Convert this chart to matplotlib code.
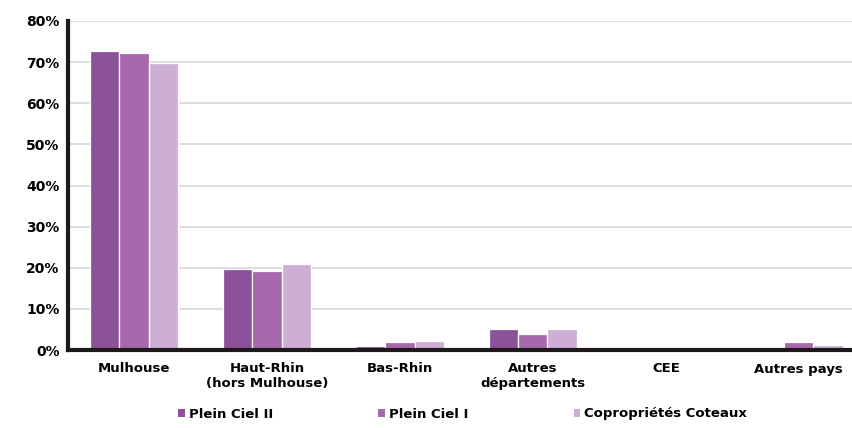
import matplotlib
matplotlib.use('Agg')
import matplotlib.pyplot as plt
import numpy as np
from matplotlib.patches import Patch
from matplotlib.ticker import FuncFormatter

plt.rcParams['font.family'] = ['DejaVu Sans']
plt.rcParams['font.weight'] = 'bold'

categories = ['Mulhouse', 'Haut-Rhin\n(hors Mulhouse)', 'Bas-Rhin', 'Autres\ndépartements', 'CEE', 'Autres pays']
series_names = ['Plein Ciel II', 'Plein Ciel I', 'Copropriétés Coteaux']
plein_ciel_2 = [72.7, 19.7, 0.9, 5.0, 0.0, 0.8]
plein_ciel_1 = [72.1, 19.2, 2.0, 4.0, 0.0, 1.9]
coteaux = [69.8, 21.0, 2.2, 5.1, 0.0, 1.1]
y_ticks = [0, 10, 20, 30, 40, 50, 60, 70, 80]

colors = ['#8c5299', '#a668aa', '#cdafd5']
grid_color = '#ddd2de'

fig = plt.figure(figsize=(8.52, 4.28), dpi=100)
ax = fig.add_axes([68 / 852, 1 - 350 / 428, 1 - 68 / 852, 329 / 428])

x = np.arange(len(categories))
w = 0.22
for i, vals in enumerate([plein_ciel_2, plein_ciel_1, coteaux]):
    ax.bar(x + (i - 1) * w, vals, width=w, color=colors[i], edgecolor='white',
           linewidth=0.9, zorder=3, label=series_names[i])

ax.set_xlim(-0.496, 5.4)
ax.set_ylim(0, 80)
ax.set_yticks(y_ticks)
ax.yaxis.set_major_formatter(FuncFormatter(lambda v, _: '%d%%' % v))
ax.yaxis.grid(True, color=grid_color, linewidth=1.2, zorder=0)
ax.set_axisbelow(True)

ax.set_xticks(x)
ax.set_xticklabels(categories, fontsize=9.5, linespacing=1.1)
ax.tick_params(axis='x', length=0, pad=9)
ax.tick_params(axis='y', length=0, pad=6, labelsize=10)

for side in ['top', 'right']:
    ax.spines[side].set_visible(False)
for side in ['left', 'bottom']:
    ax.spines[side].set_linewidth(3)
    ax.spines[side].set_color('#1e1a1c')
    ax.spines[side].set_zorder(5)

handles = [Patch(facecolor=c, edgecolor='none') for c in colors]
fig.legend(handles, series_names, loc='center', bbox_to_anchor=(0.543, 1 - 414 / 428),
           ncol=3, frameon=False, fontsize=9.5, handlelength=0.5, handleheight=0.5,
           handletextpad=0.3, columnspacing=8.0)

fig.savefig('out.png', dpi=100)
